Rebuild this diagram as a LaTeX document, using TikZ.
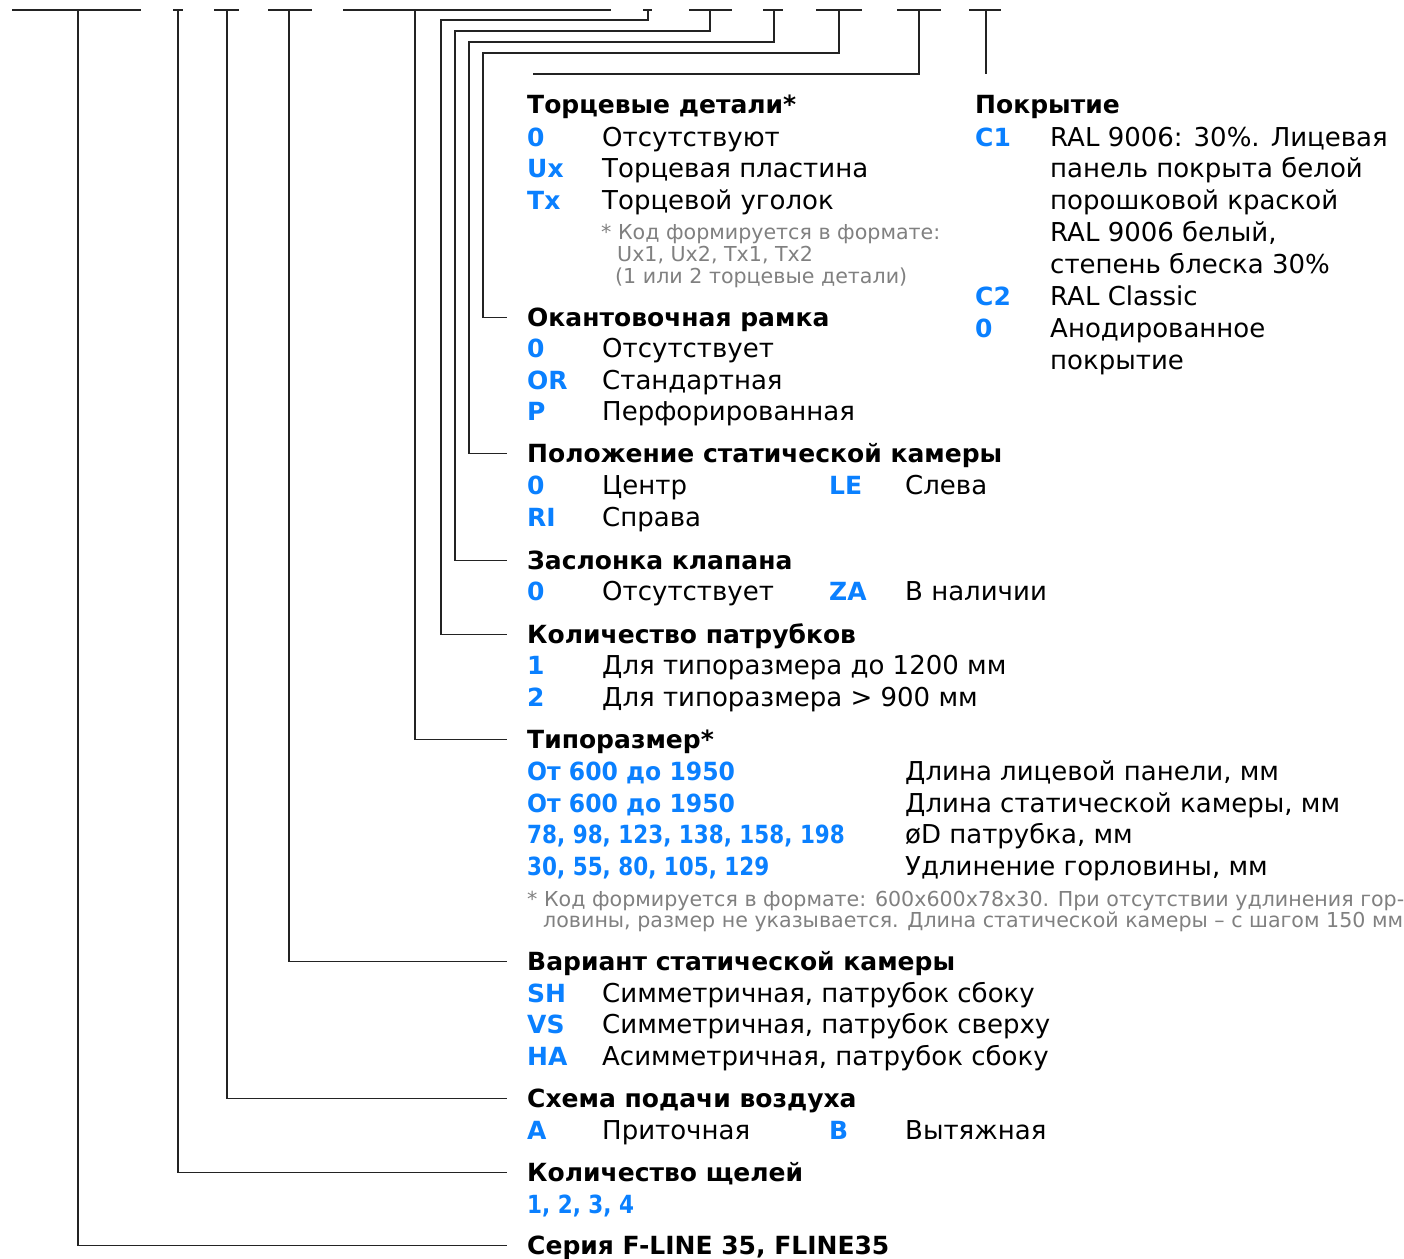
\documentclass[tikz,border=0pt]{standalone}
\usepackage{fontspec}
\setmainfont{DejaVu Sans}
\newfontfamily\numfont[FakeStretch=0.86]{DejaVu Sans}
\newfontfamily\rngfont[FakeStretch=0.94]{DejaVu Sans}
\usetikzlibrary{positioning}
\definecolor{codeblue}{RGB}{10,128,255}
\definecolor{notegray}{RGB}{128,128,128}
\definecolor{linegray}{RGB}{35,35,35}

\begin{document}
\begin{tikzpicture}[
  x=1pt, y=-1pt,
  hd/.style={anchor=base west, inner sep=0pt, text height=17pt, text depth=0pt, font=\fontsize{25pt}{30pt}\selectfont\bfseries},
  cde/.style={anchor=base west, inner sep=0pt, text=codeblue, font=\fontsize{25pt}{30pt}\selectfont\bfseries},
  numcde/.style={cde, font=\numfont\fontsize{25pt}{30pt}\selectfont\bfseries},
  rngcde/.style={cde, font=\rngfont\fontsize{25pt}{30pt}\selectfont\bfseries},
  dsc/.style={anchor=base west, inner sep=0pt, font=\fontsize{26pt}{30pt}\selectfont},
  fnote/.style={anchor=base west, inner sep=0pt, text=notegray, font=\fontsize{20.6pt}{22pt}\selectfont},
  bar/.style={draw=linegray, line width=1.3pt},
  wire/.style={draw=linegray, line width=1.3pt}
]
  \useasboundingbox (0,0) rectangle (1404,1258);

  % caps along the top
  \draw[bar] (12,10) -- (141,10);
  \draw[bar] (173,10) -- (183,10);
  \draw[bar] (214,10) -- (239,10);
  \draw[bar] (268,10) -- (312,10);
  \draw[bar] (343,10) -- (611,10);
  \draw[bar] (643,10) -- (652,10);
  \draw[bar] (689,10) -- (732,10);
  \draw[bar] (763,10) -- (783,10);
  \draw[bar] (816,10) -- (862,10);
  \draw[bar] (897,10) -- (941,10);
  \draw[bar] (969,10) -- (1001,10);

  \coordinate (tSer) at (78,10);
  \coordinate (tShc) at (178,10);
  \coordinate (tSkh) at (227,10);
  \coordinate (tVar) at (289,10);
  \coordinate (tTip) at (415,10);
  \coordinate (tPat) at (648,10);
  \coordinate (tZas) at (710,10);
  \coordinate (tPol) at (774,10);
  \coordinate (tOka) at (839,10);
  \coordinate (tTor) at (919,10);
  \coordinate (tPok) at (986,10);
  \coordinate (eTor) at (533,74);
  \coordinate (ePok) at (986,74);

  % Торцевые детали
  \node[hd] (hdTor) at (527,113) {Торцевые детали*};
  \node[cde] (cTor1) at (527,146) {0};
  \node[dsc] (dTor1) at (602,146) {Отсутствуют};
  \node[cde] (cTor2) at (527,177) {Ux};
  \node[dsc] (dTor2) at (602,177) {Торцевая пластина};
  \node[cde] (cTor3) at (527,209) {Tx};
  \node[dsc] (dTor3) at (602,209) {Торцевой уголок};
  \node[fnote] (nTor1) at (601,239) {* Код формируется в формате:};
  \node[fnote] (nTor2) at (617,261) {Ux1, Ux2, Tx1, Tx2};
  \node[fnote] (nTor3) at (615,283) {(1 или 2 торцевые детали)};

  % Покрытие
  \node[hd] (hdPok) at (975,113) {Покрытие};
  \node[cde] (cPok1) at (975,146) {C1};
  \node[dsc] (dPok1) at (1050,146) {RAL 9006: 30\%. Лицевая};
  \node[dsc] (dPok2) at (1050,177) {панель покрыта белой};
  \node[dsc] (dPok3) at (1050,209) {порошковой краской};
  \node[dsc] (dPok4) at (1050,241) {RAL 9006 белый,};
  \node[dsc] (dPok5) at (1050,273) {степень блеска 30\%};
  \node[cde] (cPok2) at (975,305) {C2};
  \node[dsc] (dPok6) at (1050,305) {RAL Classic};
  \node[cde] (cPok3) at (975,337) {0};
  \node[dsc] (dPok7) at (1050,337) {Анодированное};
  \node[dsc] (dPok8) at (1050,369) {покрытие};

  % Окантовочная рамка
  \node[hd] (hdOka) at (527,326) {Окантовочная рамка};
  \node[cde] (cOka1) at (527,357) {0};
  \node[dsc] (dOka1) at (602,357) {Отсутствует};
  \node[cde] (cOka2) at (527,389) {OR};
  \node[dsc] (dOka2) at (602,389) {Стандартная};
  \node[cde] (cOka3) at (527,420) {P};
  \node[dsc] (dOka3) at (602,420) {Перфорированная};

  % Положение статической камеры
  \node[hd] (hdPol) at (527,462) {Положение статической камеры};
  \node[cde] (cPol1) at (527,494) {0};
  \node[dsc] (dPol1) at (602,494) {Центр};
  \node[cde] (cPol2) at (829,494) {LE};
  \node[dsc] (dPol2) at (905,494) {Слева};
  \node[cde] (cPol3) at (527,526) {RI};
  \node[dsc] (dPol3) at (602,526) {Справа};

  % Заслонка клапана
  \node[hd] (hdZas) at (527,569) {Заслонка клапана};
  \node[cde] (cZas1) at (527,600) {0};
  \node[dsc] (dZas1) at (602,600) {Отсутствует};
  \node[cde] (cZas2) at (829,600) {ZA};
  \node[dsc] (dZas2) at (905,600) {В наличии};

  % Количество патрубков
  \node[hd] (hdPat) at (527,643) {Количество патрубков};
  \node[cde] (cPat1) at (527,674) {1};
  \node[dsc] (dPat1) at (602,674) {Для типоразмера до 1200 мм};
  \node[cde] (cPat2) at (527,706) {2};
  \node[dsc] (dPat2) at (602,706) {Для типоразмера > 900 мм};

  % Типоразмер
  \node[hd] (hdTip) at (527,748) {Типоразмер*};
  \node[rngcde] (cTip1) at (527,780) {От 600 до 1950};
  \node[dsc] (dTip1) at (905,780) {Длина лицевой панели, мм};
  \node[rngcde] (cTip2) at (527,812) {От 600 до 1950};
  \node[dsc] (dTip2) at (905,812) {Длина статической камеры, мм};
  \node[numcde] (cTip3) at (527,843) {78, 98, 123, 138, 158, 198};
  \node[dsc] (dTip3) at (905,843) {øD патрубка, мм};
  \node[numcde] (cTip4) at (527,875) {30, 55, 80, 105, 129};
  \node[dsc] (dTip4) at (905,875) {Удлинение горловины, мм};
  \node[fnote] (nTip1) at (527,906) {* Код формируется в формате: 600x600x78x30. При отсутствии удлинения гор-};
  \node[fnote] (nTip2) at (543,927) {ловины, размер не указывается. Длина статической камеры – с шагом 150 мм};

  % Вариант статической камеры
  \node[hd] (hdVar) at (527,970) {Вариант статической камеры};
  \node[cde] (cVar1) at (527,1002) {SH};
  \node[dsc] (dVar1) at (602,1002) {Симметричная, патрубок сбоку};
  \node[cde] (cVar2) at (527,1033) {VS};
  \node[dsc] (dVar2) at (602,1033) {Симметричная, патрубок сверху};
  \node[cde] (cVar3) at (527,1065) {HA};
  \node[dsc] (dVar3) at (602,1065) {Асимметричная, патрубок сбоку};

  % Схема подачи воздуха
  \node[hd] (hdSkh) at (527,1107) {Схема подачи воздуха};
  \node[cde] (cSkh1) at (527,1139) {A};
  \node[dsc] (dSkh1) at (602,1139) {Приточная};
  \node[cde] (cSkh2) at (829,1139) {B};
  \node[dsc] (dSkh2) at (905,1139) {Вытяжная};

  % Количество щелей
  \node[hd] (hdShc) at (527,1181) {Количество щелей};
  \node[numcde] (cShc1) at (527,1213) {1, 2, 3, 4};

  % Серия
  \node[hd] (hdSer) at (527,1254) {Серия F-LINE 35, FLINE35};

  % brackets
  \draw[wire] (tSer) |- ([xshift=-20pt]hdSer.west);
  \draw[wire] (tShc) |- ([xshift=-20pt]hdShc.west);
  \draw[wire] (tSkh) |- ([xshift=-20pt]hdSkh.west);
  \draw[wire] (tVar) |- ([xshift=-20pt]hdVar.west);
  \draw[wire] (tTip) |- ([xshift=-20pt]hdTip.west);
  \draw[wire] (tPat) |- (441,20) |- ([xshift=-20pt]hdPat.west);
  \draw[wire] (tZas) |- (455,31) |- ([xshift=-20pt]hdZas.west);
  \draw[wire] (tPol) |- (469,42) |- ([xshift=-20pt]hdPol.west);
  \draw[wire] (tOka) |- (483,53) |- ([xshift=-20pt]hdOka.west);
  \draw[wire] (tTor) |- (eTor);
  \draw[wire] (tPok) -- (ePok);
\end{tikzpicture}
\end{document}
